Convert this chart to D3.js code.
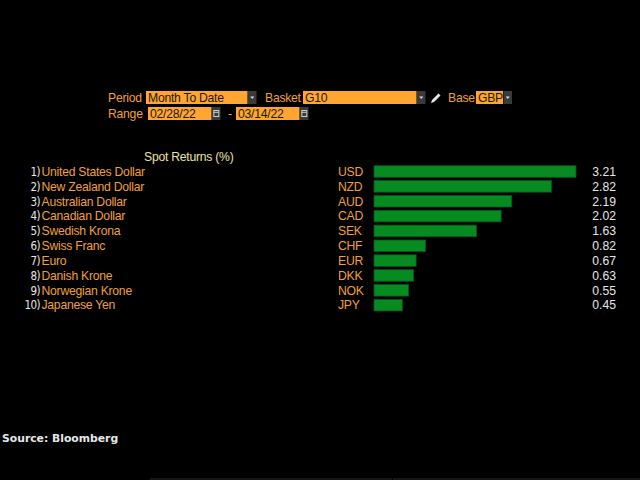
<!DOCTYPE html>
<html><head><meta charset="utf-8">
<script src="https://cdn.jsdelivr.net/npm/d3@7/dist/d3.min.js"></script>
<style>
html,body{margin:0;padding:0;background:#000;}
svg{display:block;}
</style></head>
<body>
<svg id="c" width="640" height="480"></svg>
<script>
const ranks = ["1)","2)","3)","4)","5)","6)","7)","8)","9)","10)"];
const names = ["United States Dollar","New Zealand Dollar","Australian Dollar","Canadian Dollar","Swedish Krona","Swiss Franc","Euro","Danish Krone","Norwegian Krone","Japanese Yen"];
const codes = ["USD","NZD","AUD","CAD","SEK","CHF","EUR","DKK","NOK","JPY"];
const returns = [3.21,2.82,2.19,2.02,1.63,0.82,0.67,0.63,0.55,0.45];
const title = "Spot Returns (%)";

const svg = d3.select("#c");
svg.append("rect").attr("width",640).attr("height",480).attr("fill","#000");

const labelFont = "'Liberation Sans', Arial, sans-serif";
const FS = 12.2, LS = -0.25;
const orange = "#f0a03a";
const boxFill = "#ffa530";

function txt(x,y,t,fill){ return svg.append("text").attr("x",x).attr("y",y).attr("fill",fill||orange)
  .attr("font-family",labelFont).attr("font-size",FS).attr("letter-spacing",LS).text(t); }
function box(x0,x1,y0,y1,t){
  svg.append("rect").attr("x",x0).attr("y",y0).attr("width",x1-x0).attr("height",y1-y0).attr("fill",boxFill);
  txt(x0+2,y1-2.5,t,"#1a1a1a");
}
function dropdown(x0,y0,y1){
  svg.append("rect").attr("x",x0).attr("y",y0).attr("width",8.5).attr("height",y1-y0).attr("fill","#3a3a3a");
  const cx=x0+4.25, cy=(y0+y1)/2;
  svg.append("path").attr("d",`M${cx-2},${cy-1}L${cx+2},${cy-1}L${cx},${cy+1.5}Z`).attr("fill","#ddd");
}
function cal(x0,y0,y1){
  svg.append("rect").attr("x",x0).attr("y",y0).attr("width",8.5).attr("height",y1-y0).attr("fill","#3a3a3a");
  const cy=(y0+y1)/2;
  svg.append("rect").attr("x",x0+1.8).attr("y",cy-3).attr("width",5).attr("height",6)
    .attr("fill","none").attr("stroke","#ccc").attr("stroke-width",1);
  svg.append("line").attr("x1",x0+1.8).attr("x2",x0+6.8).attr("y1",cy-1.2).attr("y2",cy-1.2).attr("stroke","#ccc").attr("stroke-width",1);
}
txt(108,102,"Period");
box(146,247.5,91,104,"Month To Date");
dropdown(248,91,104);
txt(265,102,"Basket");
box(303,416.5,91,104,"G10");
dropdown(417,91,104);
// pencil icon
svg.append("path").attr("d","M431,103 L432,100 L438.5,93.5 L440.5,95.5 L434,102 Z").attr("fill","#e8e8e8");
txt(448,102,"Base");
box(476,503,91,104,"GBP");
dropdown(503.5,91,104);

txt(108,118,"Range");
box(148,211.5,107,120,"02/28/22");
cal(212,107,120);
txt(228,118,"-");
box(236,299.5,107,120,"03/14/22");
cal(300,107,120);

// ---- chart ----
txt(144,161,title,"#eee2a0");

const y = d3.scaleBand().domain(codes).range([164.1,312.6]).paddingInner(0.22).paddingOuter(0.11);
const x = d3.scaleLinear().domain([0, d3.max(returns)]).range([374, 576]);

const rows = codes.map((c,i)=>({rank:ranks[i],name:names[i],code:c,v:returns[i]}));
const g = svg.append("g");
const row = g.selectAll("g.row").data(rows).join("g").attr("class","row");
const mid = d => y(d.code) + y.bandwidth()/2;
const base = (sel)=>sel.attr("font-family",labelFont).attr("font-size",FS).attr("letter-spacing",LS);

row.append("text").attr("x",40).attr("y",d=>mid(d)+4.3).attr("text-anchor","end")
  .attr("fill","#e6e6e6").attr("font-family","'Liberation Sans Narrow','DejaVu Sans Condensed',sans-serif")
  .attr("font-size",11.5).attr("letter-spacing",-0.6).text(d=>d.rank);
row.append("text").attr("x",41.5).attr("y",d=>mid(d)+4.3).attr("fill",orange).call(base).text(d=>d.name);
row.append("text").attr("x",338).attr("y",d=>mid(d)+4.3).attr("fill",orange).call(base).text(d=>d.code);
row.append("rect").attr("x",x(0)).attr("y",d=>y(d.code)).attr("height",y.bandwidth())
  .attr("width",d=>x(d.v)-x(0)).attr("fill","#078a1f").attr("stroke","#04561a").attr("stroke-width",0.8);
row.append("text").attr("x",616).attr("y",d=>mid(d)+4.3).attr("text-anchor","end")
  .attr("fill","#e6e6e6").call(base).attr("letter-spacing",0).text(d=>d.v.toFixed(2));

// source
svg.append("text").attr("x",2).attr("y",441.5).attr("fill","#e8e8e8")
  .attr("font-family","'DejaVu Sans',sans-serif").attr("font-weight","bold").attr("font-size",10.8)
  .text("Source: Bloomberg");

// faint bottom strip
svg.append("rect").attr("x",150).attr("y",478).attr("width",242).attr("height",2).attr("fill","#151515");
svg.append("rect").attr("x",393).attr("y",478).attr("width",247).attr("height",2).attr("fill","#151515");
</script>
</body></html>
